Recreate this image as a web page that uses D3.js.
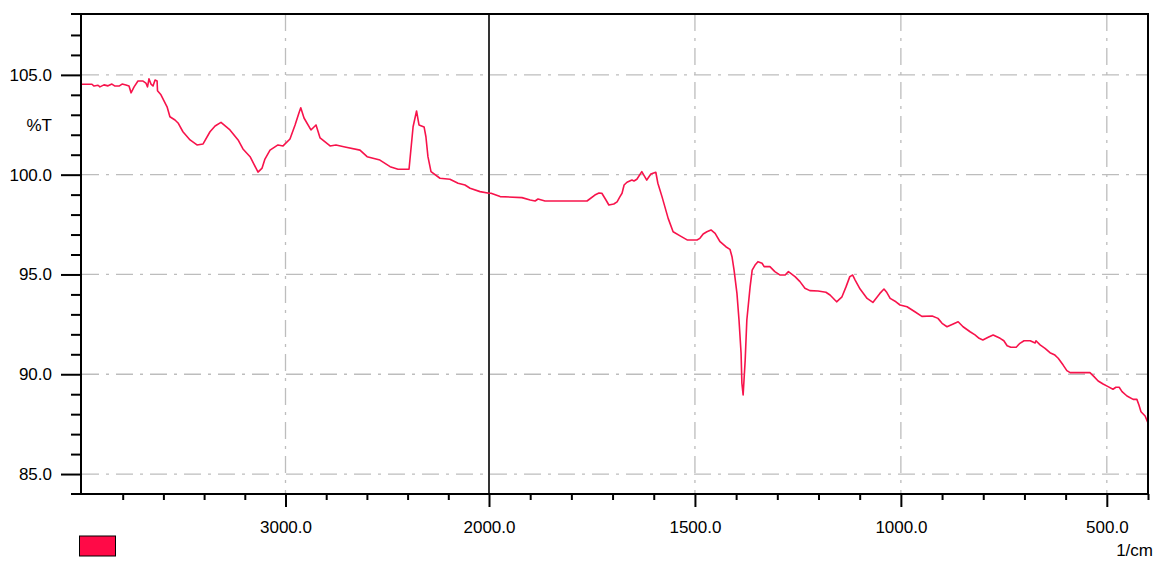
<!DOCTYPE html>
<html>
<head>
<meta charset="utf-8">
<script src="https://cdn.jsdelivr.net/npm/d3@7"></script>
<style>
    body { margin: 0; background: #ffffff; }
    text { font-family: "Liberation Sans", Arial, sans-serif; font-size: 17px; fill: #000; }
</style>
</head>
<body>
<script>
// spectrum (1/cm, %T)
const wavenumbers = [
    4000, 3951, 3941, 3921, 3912, 3892, 3872, 3853, 3838, 3818, 3803, 3784, 3769, 3759, 3744,
    3725, 3700, 3686, 3678, 3671, 3661, 3651, 3641, 3631, 3629, 3612, 3582, 3568, 3543, 3528,
    3504, 3469, 3435, 3405, 3371, 3346, 3317, 3273, 3233, 3209, 3174, 3135, 3115, 3101, 3076,
    3037, 3012, 2978, 2953, 2934, 2925, 2909, 2875, 2850, 2830, 2781, 2752, 2708, 2634, 2599,
    2536, 2486, 2447, 2393, 2373, 2356, 2344, 2319, 2310, 2300, 2285, 2241, 2192, 2152, 2118,
    2093, 2044, 2000,
    1995, 1973, 1920, 1900, 1888, 1881, 1864, 1762, 1743, 1733, 1726, 1716, 1709, 1697, 1689,
    1682, 1677, 1672, 1665, 1653, 1648, 1641, 1629, 1617, 1607, 1595, 1590, 1580, 1565, 1553,
    1536, 1519, 1495, 1488, 1480, 1471, 1461, 1451, 1439, 1425, 1415, 1410, 1405, 1398, 1393,
    1388, 1386, 1383, 1378, 1374, 1366, 1361, 1354, 1347, 1337, 1332, 1318, 1306, 1293, 1281,
    1273, 1257, 1245, 1233, 1221, 1201, 1182, 1172, 1156, 1143, 1133, 1124, 1117, 1111, 1099,
    1082, 1068, 1051, 1041, 1034, 1026, 1012, 1002, 985, 966, 949, 924, 910, 900, 888,
    873, 861, 849, 832, 820, 810, 801, 788, 776, 759, 750, 742, 733, 720, 711,
    701, 686, 674, 672, 662, 650, 638, 626, 618, 606, 597, 589, 541, 531, 521,
    509, 497, 485, 478, 470, 463, 451, 436, 427, 422, 417, 407, 400
];
const transmittance = [
    104.53, 104.53, 104.44, 104.48, 104.4, 104.5, 104.45, 104.54, 104.44, 104.44, 104.54, 104.49, 104.44, 104.1, 104.4,
    104.69, 104.69, 104.59, 104.4, 104.8, 104.54, 104.44, 104.74, 104.69, 104.2, 104.0, 103.4, 102.9, 102.74, 102.59,
    102.15, 101.74, 101.49, 101.54, 102.15, 102.44, 102.62, 102.24, 101.74, 101.29, 100.9, 100.13, 100.33, 100.78, 101.23,
    101.49, 101.44, 101.79, 102.49, 103.09, 103.35, 102.84, 102.24, 102.49, 101.84, 101.44, 101.49, 101.39, 101.23, 100.9,
    100.73, 100.4, 100.27, 100.27, 102.4, 103.19, 102.49, 102.39, 101.9, 100.9, 100.15, 99.82, 99.77, 99.57, 99.48,
    99.32, 99.15, 99.07,
    99.07, 98.9, 98.85, 98.73, 98.68, 98.78, 98.68, 98.68, 98.98, 99.08, 99.07, 98.73, 98.48, 98.53, 98.64,
    98.9, 99.07, 99.48, 99.62, 99.73, 99.68, 99.77, 100.15, 99.73, 100.03, 100.12, 99.57, 98.9, 97.81, 97.14,
    96.93, 96.73, 96.73, 96.81, 97.03, 97.14, 97.23, 97.06, 96.64, 96.39, 96.26, 95.89, 95.22, 94.05, 92.72,
    91.06, 89.55, 88.96, 90.71, 92.72, 94.39, 95.22, 95.47, 95.64, 95.56, 95.39, 95.39, 95.14, 94.97, 94.97,
    95.14, 94.89, 94.64, 94.31, 94.19, 94.17, 94.11, 93.97, 93.63, 93.88, 94.39, 94.89, 94.97, 94.72, 94.27,
    93.8, 93.6, 94.05, 94.27, 94.09, 93.8, 93.63, 93.47, 93.38, 93.13, 92.9, 92.92, 92.8, 92.55, 92.38,
    92.52, 92.63, 92.38, 92.13, 91.97, 91.8, 91.72, 91.85, 91.97, 91.8, 91.68, 91.43, 91.35, 91.35, 91.55,
    91.68, 91.68, 91.57, 91.68, 91.47, 91.3, 91.08, 90.96, 90.8, 90.46, 90.18, 90.08, 90.08, 89.88, 89.66,
    89.51, 89.38, 89.25, 89.35, 89.35, 89.13, 88.91, 88.74, 88.74, 88.46, 88.12, 87.91, 87.56
];

// axis ticks
const yMajorTicks = [85, 90, 95, 100, 105];
const yMinorTicks = [86, 87, 88, 89, 91, 92, 93, 94, 96, 97, 98, 99, 101, 102, 103, 104, 106, 107];
const xMajorTicks = [3000, 2000, 1500, 1000, 500];
const xMinorTicks = [3800, 3600, 3400, 3200, 2800, 2600, 2400, 2200,
    1900, 1800, 1700, 1600, 1400, 1300, 1200, 1100, 900, 800, 700, 600, 400];
const xGridTicks = [3000, 1500, 1000, 500];
const splitTick = 2000;

class SpectrumChart {
    constructor() {
        this.svg = this.createSvg();
        this.left = 82;
        this.right = 1148;
        this.top = 14;
        this.bottom = 494;
        // axis is compressed above 2000 1/cm, like the instrument printout
        this.x = d3.scaleLinear().domain([4000, 2000, 400]).range([this.left, 489, this.right]);
        this.y = d3.scaleLinear().domain([84, 108.05]).range([this.bottom, this.top]);
    }

    createSvg() {
        return d3.select('body').append('svg')
            .attr('width', 1157)
            .attr('height', 561);
    }

    drawGrid() {
        let g = this.svg.append('g')
            .attr('stroke', '#bdbdbd')
            .attr('stroke-width', 1.3)
            .attr('stroke-dasharray', '17,7,3,7');

        g.selectAll('.hgrid').data(yMajorTicks).enter().append('line')
            .attr('x1', this.left).attr('x2', this.right)
            .attr('y1', d => this.y(d)).attr('y2', d => this.y(d));

        g.selectAll('.vgrid').data(xGridTicks).enter().append('line')
            .attr('x1', d => this.x(d)).attr('x2', d => this.x(d))
            .attr('y1', this.top).attr('y2', this.bottom);

        // solid split line at 2000
        this.svg.append('line')
            .attr('x1', this.x(splitTick)).attr('x2', this.x(splitTick))
            .attr('y1', this.top).attr('y2', this.bottom)
            .attr('stroke', '#000').attr('stroke-width', 1.6);
    }

    drawAxes() {
        // y axis, major then minor ticks
        let yAxis = this.svg.append('g')
            .attr('transform', `translate(${this.left - 1},0)`)
            .call(d3.axisLeft(this.y).tickValues(yMajorTicks).tickSize(20).tickPadding(9)
                .tickFormat(d3.format('.1f')));
        // make sure labels sit left of the long ticks
        yAxis.selectAll('text').attr('x', -29).attr('text-anchor', 'end');
        this.svg.append('g')
            .attr('transform', `translate(${this.left - 1},0)`)
            .call(d3.axisLeft(this.y).tickValues(yMinorTicks).tickSize(10).tickFormat(''));

        // x axis
        let xAxis = this.svg.append('g')
            .attr('transform', `translate(0,${this.bottom})`)
            .call(d3.axisBottom(this.x).tickValues(xMajorTicks).tickSize(13).tickPadding(14)
                .tickFormat(d3.format('.1f')));
        this.svg.append('g')
            .attr('transform', `translate(0,${this.bottom})`)
            .call(d3.axisBottom(this.x).tickValues(xMinorTicks).tickSize(6).tickFormat(''));

        this.svg.selectAll('.domain').remove();
        this.svg.selectAll('.tick line').attr('stroke', '#000').attr('stroke-width', 2);
        this.svg.selectAll('.tick text')
            .style('font-family', '"Liberation Sans", Arial, sans-serif')
            .style('font-size', '17px')
            .attr('fill', '#000');

        // frame: top, right, bottom (top and bottom stick out to the left)
        let frame = this.svg.append('g').attr('stroke', '#000').attr('stroke-width', 2).attr('fill', 'none');
        frame.append('path')
            .attr('d', `M${this.left - 11},${this.top} H${this.right} V${this.bottom} H${this.left - 11}`);
        frame.append('line')
            .attr('x1', this.left - 1).attr('x2', this.left - 1)
            .attr('y1', this.top).attr('y2', this.bottom);

        this.svg.append('text')
            .attr('x', 52).attr('y', this.y(102.5))
            .attr('dy', '0.35em')
            .attr('text-anchor', 'end')
            .text('%T');

        this.svg.append('text')
            .attr('x', 1153).attr('y', 556)
            .attr('text-anchor', 'end')
            .text('1/cm');
    }

    drawSpectrum() {
        let points = wavenumbers.map((w, i) => [w, transmittance[i]]);
        let line = d3.line()
            .x(d => this.x(d[0]))
            .y(d => this.y(d[1]));

        this.svg.append('path')
            .datum(points)
            .attr('d', line)
            .attr('fill', 'none')
            .attr('stroke', '#f7134b')
            .attr('stroke-width', 1.6)
            .attr('stroke-linejoin', 'round');
    }

    drawLegend() {
        this.svg.append('rect')
            .attr('x', 79.5).attr('y', 536)
            .attr('width', 36).attr('height', 20)
            .attr('fill', '#ff0a47')
            .attr('stroke', '#000')
            .attr('stroke-width', 1);
    }
}

let chart = new SpectrumChart();
chart.drawGrid();
chart.drawSpectrum();
chart.drawAxes();
chart.drawLegend();
</script>
</body>
</html>
